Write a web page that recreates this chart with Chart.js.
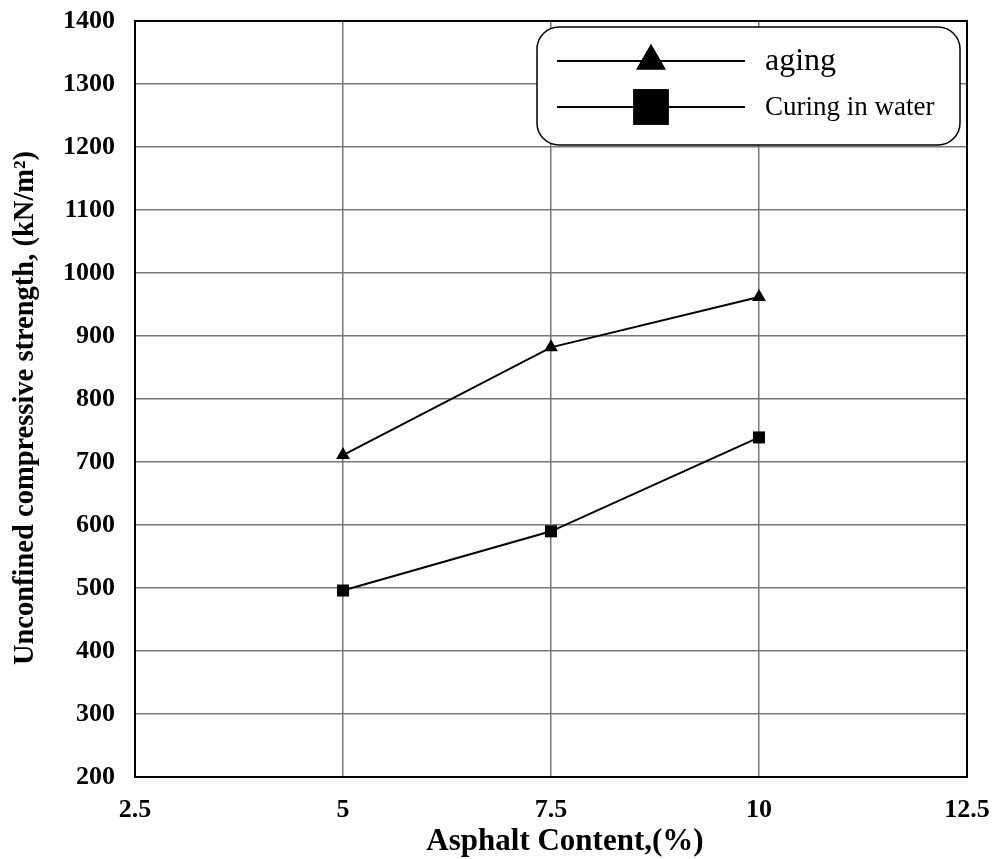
<!DOCTYPE html>
<html>
<head>
<meta charset="utf-8">
<script src="https://cdn.jsdelivr.net/npm/chart.js@4"></script>
<style>
  html, body { margin: 0; padding: 0; background: #fff; }
  #wrap { width: 995px; height: 859px; position: relative; }
</style>
</head>
<body>
<div id="wrap"><canvas id="chart"></canvas></div>
<script>
const asphaltContent = [5, 7.5, 10];
const agingValues = [711, 882, 962];
const waterValues = [496, 590, 739];
const seriesLabels = ["aging", "Curing in water"];
const xTitle = "Asphalt Content,(%)";
const yTitle = "Unconfined compressive strength, (kN/m\u00B2)";

const serif = "'Liberation Serif', 'Times New Roman', serif";

function toPoints(xs, ys) {
  return xs.map((x, i) => ({ x: x, y: ys[i] }));
}

// frame, axis titles and the rounded legend box
const decorPlugin = {
  id: "decor",
  afterDraw(chart) {
    const ctx = chart.ctx;
    const a = chart.chartArea;
    ctx.save();
    ctx.strokeStyle = "#000";
    ctx.lineWidth = 2;
    ctx.strokeRect(a.left, a.top, a.right - a.left, a.bottom - a.top);

    ctx.fillStyle = "#000";
    ctx.textAlign = "center";
    ctx.textBaseline = "alphabetic";
    ctx.font = "bold 31px " + serif;
    ctx.fillText(xTitle, 565, 850);

    ctx.save();
    ctx.font = "bold 28.5px " + serif;
    ctx.translate(33, 408);
    ctx.rotate(-Math.PI / 2);
    ctx.fillText(yTitle, 0, 0);
    ctx.restore();

    // legend
    const bx = 537, by = 27, bw = 423, bh = 118, r = 22;
    ctx.beginPath();
    ctx.moveTo(bx + r, by);
    ctx.arcTo(bx + bw, by, bx + bw, by + bh, r);
    ctx.arcTo(bx + bw, by + bh, bx, by + bh, r);
    ctx.arcTo(bx, by + bh, bx, by, r);
    ctx.arcTo(bx, by, bx + bw, by, r);
    ctx.closePath();
    ctx.fillStyle = "#fff";
    ctx.fill();
    ctx.lineWidth = 1.5;
    ctx.strokeStyle = "#000";
    ctx.stroke();

    const rows = [
      { y: 61, style: "triangle", rad: 17, font: "32px " + serif },
      { y: 107, style: "rect", rad: 25, font: "27px " + serif },
    ];
    chart.data.datasets.forEach((ds, i) => {
      const row = rows[i];
      ctx.beginPath();
      ctx.moveTo(557, row.y);
      ctx.lineTo(745, row.y);
      ctx.lineWidth = 2;
      ctx.strokeStyle = "#000";
      ctx.stroke();
      ctx.fillStyle = "#000";
      Chart.helpers.drawPoint(ctx, { pointStyle: row.style, radius: row.rad, rotation: 0, borderWidth: 0 }, 651, row.y);
      ctx.fill();
      ctx.font = row.font;
      ctx.textAlign = "left";
      ctx.textBaseline = "middle";
      ctx.fillText(ds.label, 765, row.y + 1);
    });
    ctx.restore();
  },
};

new Chart(document.getElementById("chart"), {
  type: "line",
  data: {
    datasets: [
      {
        label: seriesLabels[0],
        data: toPoints(asphaltContent, agingValues),
        borderColor: "#000",
        backgroundColor: "#000",
        borderWidth: 2,
        pointStyle: "triangle",
        pointRadius: 8,
        pointBorderWidth: 0,
        tension: 0,
      },
      {
        label: seriesLabels[1],
        data: toPoints(asphaltContent, waterValues),
        borderColor: "#000",
        backgroundColor: "#000",
        borderWidth: 2,
        pointStyle: "rect",
        pointRadius: 8.5,
        pointBorderWidth: 0,
        tension: 0,
      },
    ],
  },
  options: {
    responsive: true,
    maintainAspectRatio: false,
    animation: false,
    layout: { padding: { left: 0, top: 21, right: 28, bottom: 0 } },
    plugins: {
      legend: { display: false },
      tooltip: { enabled: false },
    },
    scales: {
      x: {
        type: "linear",
        min: 2.5,
        max: 12.5,
        afterFit: (s) => {
          s.height = 82;
          s.paddingLeft = 0;
          s.paddingRight = 0;
        },
        ticks: {
          stepSize: 2.5,
          color: "#000",
          padding: 18,
          maxRotation: 0,
          callback: (v) => String(v),
          font: { family: serif, size: 26, weight: "bold" },
        },
        grid: { color: "#777", lineWidth: 1.5, drawTicks: false },
        border: { display: false },
      },
      y: {
        min: 200,
        max: 1400,
        afterFit: (s) => {
          s.width = 135;
          s.paddingTop = 0;
          s.paddingBottom = 0;
        },
        ticks: {
          stepSize: 100,
          color: "#000",
          padding: 20,
          callback: (v) => String(v),
          font: { family: serif, size: 26, weight: "bold" },
        },
        grid: { color: "#777", lineWidth: 1.5, drawTicks: false },
        border: { display: false },
      },
    },
  },
  plugins: [decorPlugin],
});
</script>
</body>
</html>
